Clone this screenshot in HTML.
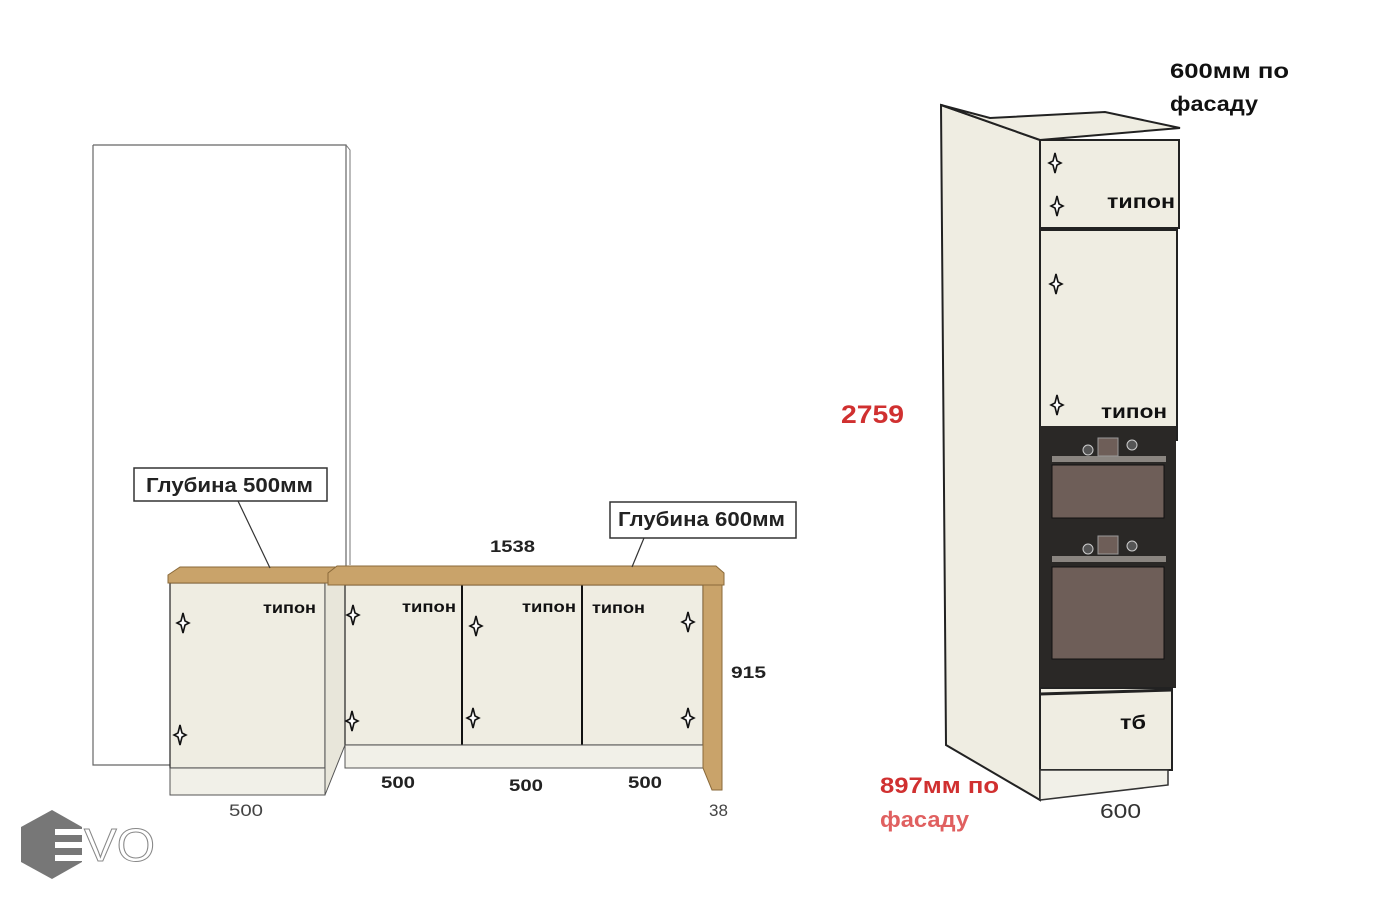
<!DOCTYPE html>
<html><head><meta charset="utf-8"><style>
body{margin:0;background:#fff;}
svg{display:block;font-family:"Liberation Sans","DejaVu Sans",sans-serif;}
.b{font-weight:bold;}
</style></head><body>
<svg width="1400" height="900" viewBox="0 0 1400 900">
<defs>
<g id="h"><path d="M0,-10 L2,-2 L6,0 L2,2 L0,10 L-2,2 L-6,0 L-2,-2Z" fill="#fff" stroke="#111" stroke-width="1.6"/></g>
</defs>
<path d="M93,145 L346,145 L346,765 M93,145 L93,765 L170,765" fill="none" stroke="#666" stroke-width="1.2"/>
<path d="M346,145 L350,150 L350,565" fill="none" stroke="#777" stroke-width="1"/>
<rect x="170" y="583" width="155" height="185" fill="#efede2" stroke="#222" stroke-width="1.2"/>
<rect x="170" y="768" width="155" height="27" fill="#f1f0e8" stroke="#555" stroke-width="1"/>
<polygon points="325,583 345,583 345,745 325,795 325,768" fill="#e8e6da" stroke="#555" stroke-width="1"/>
<polygon points="168,575 180,567 335,567 330,583 168,583" fill="#c9a36a" stroke="#8a6a3a" stroke-width="1"/>
<rect x="345" y="585" width="358" height="160" fill="#efede2" stroke="#222" stroke-width="1.2"/>
<line x1="462" y1="585" x2="462" y2="745" stroke="#111" stroke-width="2"/>
<line x1="582" y1="585" x2="582" y2="745" stroke="#111" stroke-width="2"/>
<rect x="345" y="745" width="358" height="23" fill="#f1f0e8" stroke="#555" stroke-width="1"/>
<polygon points="703,585 722,585 722,790 712,790 703,768" fill="#c9a36a" stroke="#8a6a3a" stroke-width="1"/>
<polygon points="328,573 337,566 716,566 724,573 724,585 328,585" fill="#c9a36a" stroke="#8a6a3a" stroke-width="1"/>
<use href="#h" x="183" y="623"/><use href="#h" x="180" y="735"/>
<use href="#h" x="353" y="615"/><use href="#h" x="352" y="721"/>
<use href="#h" x="476" y="626"/><use href="#h" x="473" y="718"/>
<use href="#h" x="688" y="622"/><use href="#h" x="688" y="718"/>
<g class="b" font-size="16" fill="#111">
<text x="263" y="613" textLength="53" lengthAdjust="spacingAndGlyphs">типон</text><text x="402" y="612" textLength="54" lengthAdjust="spacingAndGlyphs">типон</text><text x="522" y="612" textLength="54" lengthAdjust="spacingAndGlyphs">типон</text><text x="592" y="613" textLength="53" lengthAdjust="spacingAndGlyphs">типон</text>
</g>
<rect x="134" y="468" width="193" height="33" fill="#fff" stroke="#333" stroke-width="1.5"/>
<text x="146" y="492" font-size="20" class="b" fill="#222" textLength="167" lengthAdjust="spacingAndGlyphs">Глубина 500мм</text>
<line x1="238" y1="501" x2="270" y2="568" stroke="#333" stroke-width="1.2"/>
<rect x="610" y="502" width="186" height="36" fill="#fff" stroke="#333" stroke-width="1.5"/>
<text x="618" y="526" font-size="20" class="b" fill="#222" textLength="167" lengthAdjust="spacingAndGlyphs">Глубина 600мм</text>
<line x1="644" y1="538" x2="632" y2="567" stroke="#333" stroke-width="1.2"/>
<g font-size="17" class="b" fill="#222">
<text x="490" y="552" textLength="45" lengthAdjust="spacingAndGlyphs">1538</text><text x="731" y="678" textLength="35" lengthAdjust="spacingAndGlyphs">915</text>
<text x="381" y="788" textLength="34" lengthAdjust="spacingAndGlyphs">500</text><text x="509" y="791" textLength="34" lengthAdjust="spacingAndGlyphs">500</text><text x="628" y="788" textLength="34" lengthAdjust="spacingAndGlyphs">500</text>
</g>
<text x="229" y="816" font-size="17" fill="#444" textLength="34" lengthAdjust="spacingAndGlyphs">500</text>
<text x="709" y="816" font-size="17" fill="#444">38</text>
<polygon points="941,105 1040,140 1040,800 946,745" fill="#efede2" stroke="#222" stroke-width="2"/>
<polygon points="941,105 990,118 1105,112 1180,128 1040,140" fill="#efede2" stroke="#222" stroke-width="2"/>
<rect x="1040" y="140" width="139" height="88" fill="#efede2" stroke="#222" stroke-width="2"/>
<rect x="1040" y="230" width="137" height="210" fill="#efede2" stroke="#222" stroke-width="2"/>
<rect x="1040" y="426" width="136" height="262" fill="#2a2826"/>
<rect x="1052" y="465" width="112" height="53" fill="#6e5e58" stroke="#111"/>
<rect x="1052" y="567" width="112" height="92" fill="#6e5e58" stroke="#111"/>
<rect x="1052" y="456" width="114" height="6" fill="#8a8580"/>
<rect x="1052" y="556" width="114" height="6" fill="#8a8580"/>
<rect x="1098" y="438" width="20" height="18" fill="#6e5e58" stroke="#999"/>
<rect x="1098" y="536" width="20" height="18" fill="#6e5e58" stroke="#999"/>
<circle cx="1088" cy="450" r="5" fill="#555" stroke="#ccc"/><circle cx="1132" cy="445" r="5" fill="#555" stroke="#ccc"/>
<circle cx="1088" cy="549" r="5" fill="#555" stroke="#ccc"/><circle cx="1132" cy="546" r="5" fill="#555" stroke="#ccc"/>
<rect x="1040" y="688" width="132" height="82" fill="#efede2" stroke="#222" stroke-width="2"/>
<line x1="1040" y1="694" x2="1172" y2="690" stroke="#222" stroke-width="3"/>
<polygon points="1040,770 1168,770 1168,785 1040,800" fill="#f1f0e8" stroke="#333" stroke-width="1.5"/>
<use href="#h" x="1055" y="163"/><use href="#h" x="1057" y="206"/>
<use href="#h" x="1056" y="284"/><use href="#h" x="1057" y="405"/>
<g class="b" font-size="19" fill="#111">
<text x="1107" y="208" textLength="68" lengthAdjust="spacingAndGlyphs">типон</text><text x="1101" y="418" textLength="66" lengthAdjust="spacingAndGlyphs">типон</text><text x="1120" y="729" textLength="26" lengthAdjust="spacingAndGlyphs">тб</text>
<text x="1170" y="78" font-size="21" textLength="119" lengthAdjust="spacingAndGlyphs">600мм по</text><text x="1170" y="111" font-size="21" textLength="88" lengthAdjust="spacingAndGlyphs">фасаду</text>
</g>
<text x="841" y="423" font-size="25" class="b" fill="#d03030" textLength="63" lengthAdjust="spacingAndGlyphs">2759</text>
<text x="880" y="793" font-size="22" class="b" fill="#d03030" textLength="119" lengthAdjust="spacingAndGlyphs">897мм по</text>
<text x="880" y="827" font-size="22" class="b" fill="#e06060" textLength="89" lengthAdjust="spacingAndGlyphs">фасаду</text>
<text x="1100" y="818" font-size="20" fill="#333" textLength="41" lengthAdjust="spacingAndGlyphs">600</text>
<polygon points="52,810 82,827 82,862 52,879 21,862 21,827" fill="#777"/>
<rect x="55" y="829" width="30" height="6" fill="#fff"/><rect x="55" y="842" width="30" height="6" fill="#fff"/><rect x="55" y="855" width="30" height="6" fill="#fff"/>
<text x="84" y="861" font-size="46" fill="#fff" stroke="#888" stroke-width="1" textLength="71" lengthAdjust="spacingAndGlyphs">VO</text>
</svg>
</body></html>
